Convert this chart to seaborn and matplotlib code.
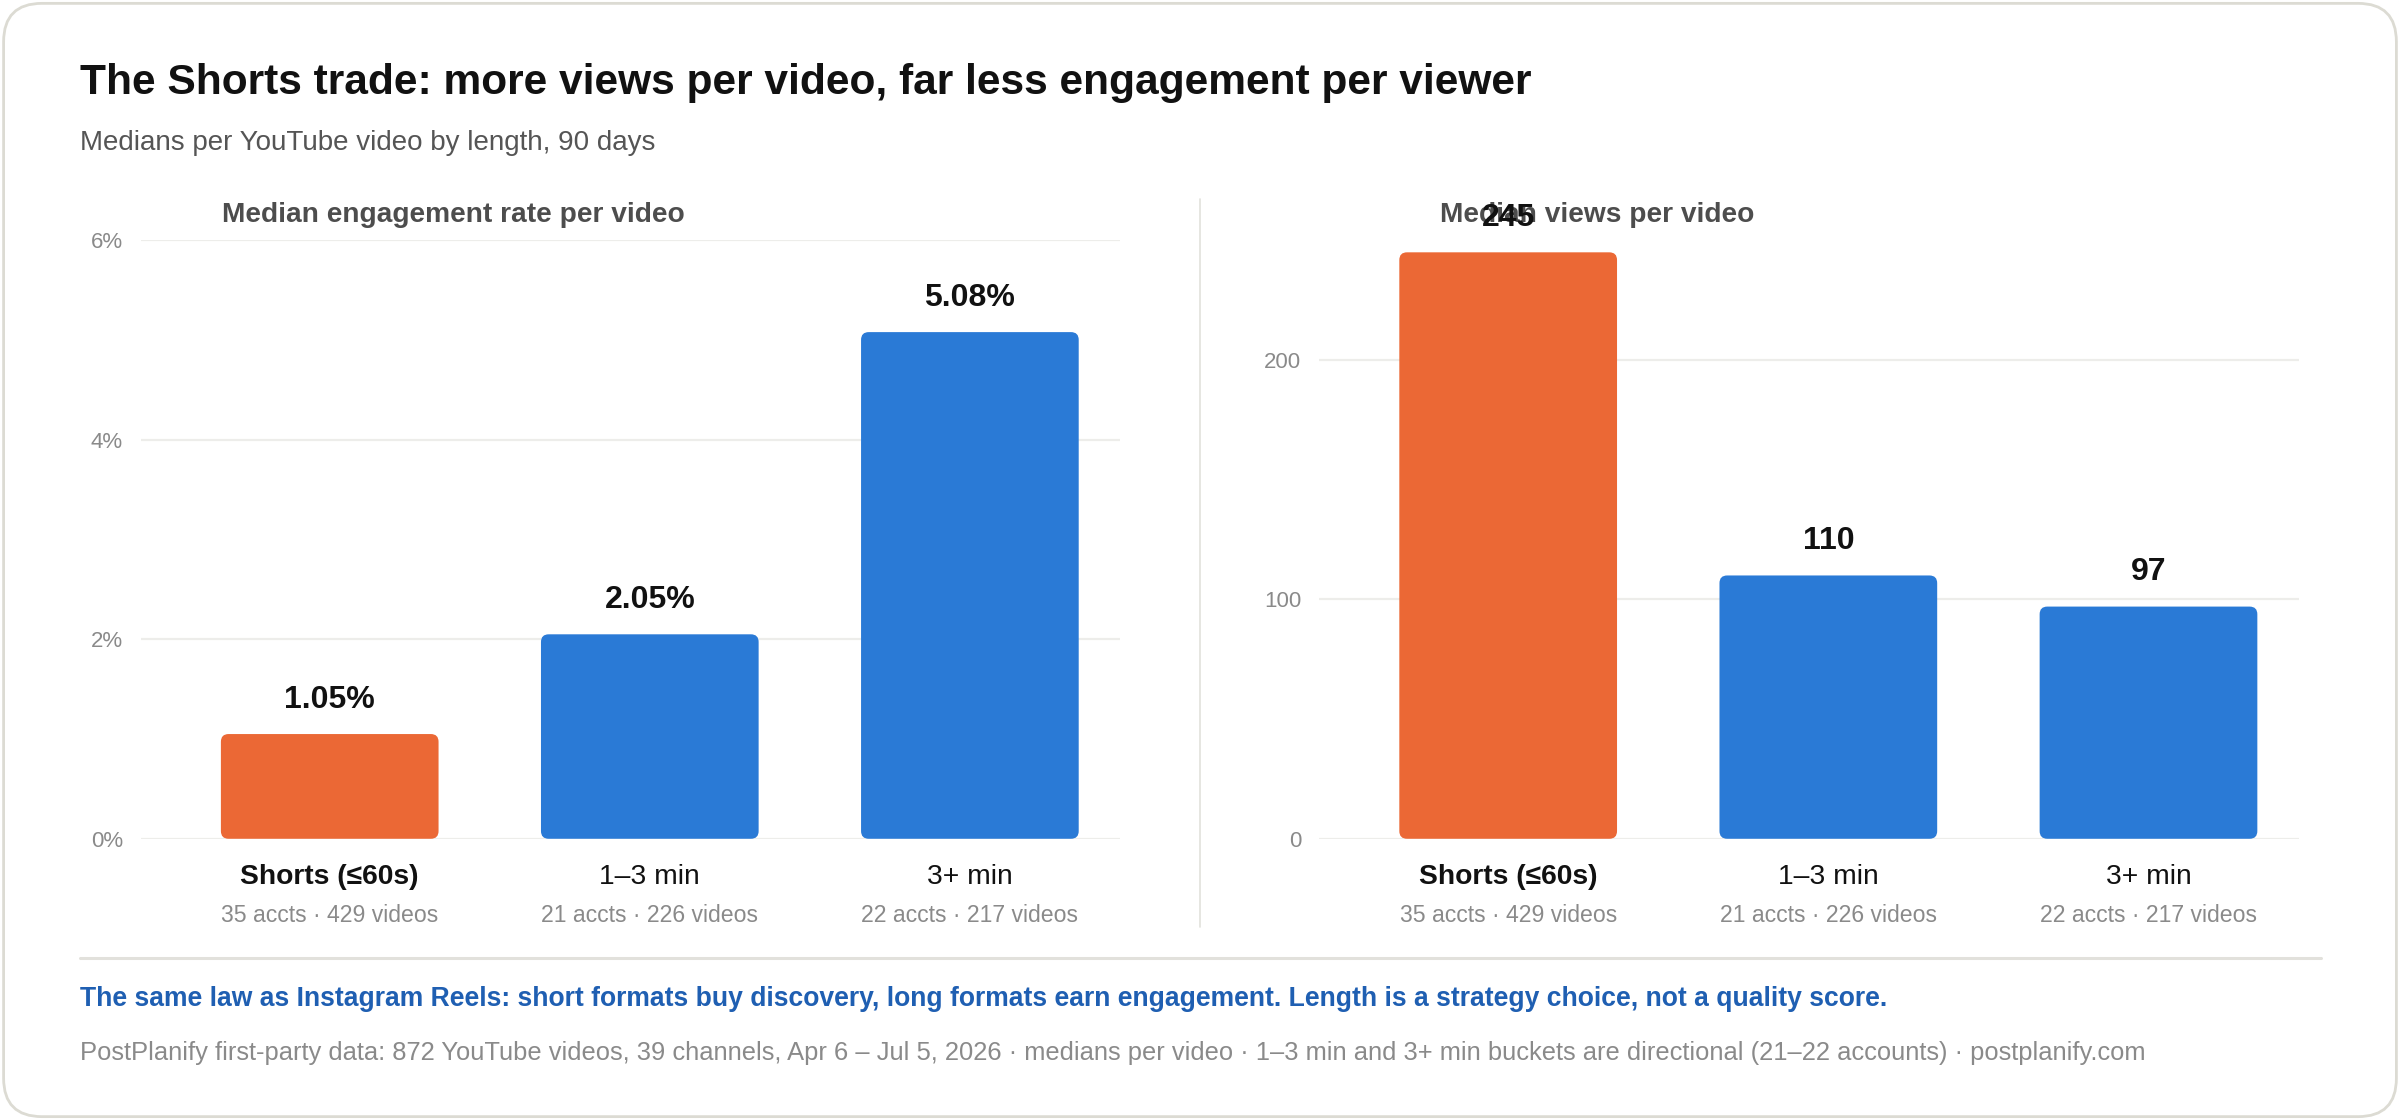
import numpy as np
import pandas as pd
import matplotlib
matplotlib.use("Agg")
import matplotlib.pyplot as plt
import seaborn as sns
from matplotlib.patches import FancyBboxPatch
from matplotlib.lines import Line2D

# data
categories = ["Shorts (≤60s)", "1–3 min", "3+ min"]
sublabels = ["35 accts · 429 videos", "21 accts · 226 videos", "22 accts · 217 videos"]
engagement = [1.05, 2.05, 5.08]
views = [245, 110, 97]
eng_ticks = [0, 2, 4, 6]
view_ticks = [0, 100, 200]

ORANGE = "#EB6835"
BLUE = "#2A7AD6"
palette = {categories[0]: ORANGE, categories[1]: BLUE, categories[2]: BLUE}

sns.set_theme(style="white")
plt.rcParams["font.family"] = ["Liberation Sans", "DejaVu Sans"]

fig = plt.figure(figsize=(12, 5.6), dpi=200)
fig.patch.set_facecolor("white")

# card border
card = FancyBboxPatch((0.0015, 0.003), 0.997, 0.994, transform=fig.transFigure,
                      boxstyle="round,pad=0,rounding_size=0.016",
                      mutation_aspect=2400 / 1120, facecolor="white",
                      edgecolor="#DCDBD3", linewidth=1.0, zorder=-10)
fig.patches.append(card)

fig.text(0.0333, 0.9260, "The Shorts trade: more views per video, far less engagement per viewer",
         fontsize=15.3, fontweight="bold", color="#111111", va="center", ha="left")
fig.text(0.0333, 0.8725, "Medians per YouTube video by length, 90 days",
         fontsize=10.0, color="#555555", va="center", ha="left")

ax1 = fig.add_axes([0.0587, 0.2511, 0.4081, 0.5343])
ax2 = fig.add_axes([0.5497, 0.2511, 0.4082, 0.5343])


def draw_panel(ax, values, ticks, ylim, fmt, title, title_x):
    df = pd.DataFrame({"cat": categories, "val": values})
    # panel title first, so the value labels sit on top of it
    ax.text(title_x, 0.808, title, transform=fig.transFigure, fontsize=10.15,
            fontweight="bold", color="#4D4D4D", va="center", ha="left")
    sns.barplot(data=df, x="cat", y="val", hue="cat", palette=palette,
                width=0.68, legend=False, ax=ax, saturation=1)
    ax.set_xlim(-0.59, 2.47)
    ax.set_ylim(*ylim)
    ax.set_yticks(ticks)
    ax.set_yticklabels([fmt(t) for t in ticks])
    ax.set_xlabel("")
    ax.set_ylabel("")
    for s in ax.spines.values():
        s.set_visible(False)
    ax.grid(axis="y", color="#EDEDEA", linewidth=0.8)
    ax.grid(axis="x", visible=False)
    ax.set_axisbelow(True)
    ax.tick_params(axis="y", length=0, pad=6.5, labelsize=8.0, labelcolor="#8A8A8A")
    ax.tick_params(axis="x", length=0, pad=9, labelsize=10.2, labelcolor="#111111")
    ax.get_xticklabels()[0].set_fontweight("bold")
    for i, sub in enumerate(sublabels):
        ax.annotate(sub, xy=(i, 0), xycoords=("data", "axes fraction"),
                    xytext=(0, -27.6), textcoords="offset points",
                    ha="center", va="center", fontsize=8.3, color="#8A8A8A")

    # rounded bars
    bb = ax.get_window_extent()
    x0, x1 = ax.get_xlim()
    y0, y1 = ax.get_ylim()
    aspect = ((y1 - y0) / bb.height) / ((x1 - x0) / bb.width)
    for p in list(ax.patches):
        x, y, w, h = p.get_x(), p.get_y(), p.get_width(), p.get_height()
        fc = p.get_facecolor()
        p.remove()
        ax.add_patch(FancyBboxPatch((x, y), w, h,
                                    boxstyle="round,pad=0,rounding_size=0.024",
                                    mutation_aspect=aspect, facecolor=fc,
                                    edgecolor="none", zorder=2))
        ax.annotate(fmt(h, True), xy=(x + w / 2, y + h), xytext=(0, 7.0),
                    textcoords="offset points", ha="center", va="bottom",
                    fontsize=11.5, fontweight="bold", color="#111111",
                    annotation_clip=False)


def pct(v, label=False):
    return f"{v:.2f}%" if label else f"{v:g}%"


def num(v, label=False):
    return f"{v:g}"


draw_panel(ax1, engagement, eng_ticks, (0, 6), pct,
           "Median engagement rate per video", 0.0925)
draw_panel(ax2, views, view_ticks, (0, 250), num,
           "Median views per video", 0.600)

# divider and separator
fig.add_artist(Line2D([0.5, 0.5], [0.172, 0.822], transform=fig.transFigure,
                      color="#E2E1DC", linewidth=0.6))
fig.add_artist(Line2D([0.0333, 0.967], [0.1446, 0.1446], transform=fig.transFigure,
                      color="#E2E1DC", linewidth=1.1))

fig.text(0.0333, 0.1076,
         "The same law as Instagram Reels: short formats buy discovery, long formats earn engagement. "
         "Length is a strategy choice, not a quality score.",
         fontsize=9.55, fontweight="bold", color="#1F5FB2", va="center", ha="left")
fig.text(0.0333, 0.0598,
         "PostPlanify first-party data: 872 YouTube videos, 39 channels, Apr 6 – Jul 5, 2026 · "
         "medians per video · 1–3 min and 3+ min buckets are directional (21–22 accounts) · postplanify.com",
         fontsize=9.2, color="#8A8A8A", va="center", ha="left")

fig.savefig("out.png", dpi=200, facecolor="white")
